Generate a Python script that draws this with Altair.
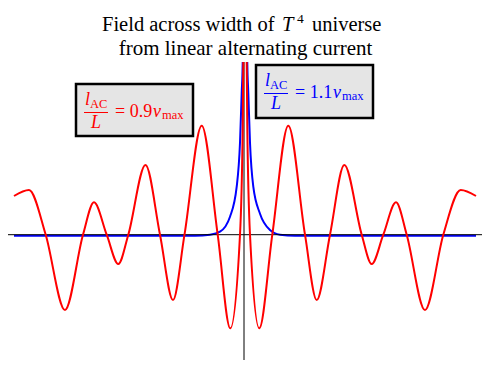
import altair as alt
import pandas as pd

# ---- data (x: offset across width, h: field value) ----
red_x_left = [-231, -216, -199.3, -180, -162, -151, -138.3, -126.7, -116.7, -99.5, -85, -72, -60.5,
              -43.3, -27.3, -14.7, -5, -2.3, -1.7, -0.8]
red_h_left = [38.7, 44.7, 0, -75.3, 0, 32.4, 0, -29.3, 0, 69.7, 0, -65.3, 0,
              109, 0, -93.6, 0, 108, 172, 320]
red_x_right = [0.8, 1.7, 2.3, 5, 14.3, 27.3, 43.3, 60, 71.7, 85, 99.3, 116.7, 126.7,
               138.3, 151, 161.7, 180, 198.3, 215.7, 231]
red_h_right = [320, 172, 108, 0, -93.6, 0, 109, 0, -65.3, 0, 69.7, 0, -29.3,
               0, 32.4, 0, -75.3, 0, 44.7, 38.7]

blue_x_left = [-231, -50, -35, -25, -15, -8.3, -5, -3.3, -2.3, -1.2]
blue_h_left = [-1, -1, 0, 3, 18, 48, 92, 142, 172, 300]
blue_x_right = [1.2, 2.3, 3.3, 5, 8.3, 15, 25, 35, 50, 231]
blue_h_right = [300, 172, 142, 92, 48, 21, 4.7, 0, -1, -1]

title_1 = ["Field across width of", "T", "4", "universe"]
title_2 = "from linear alternating current"
label_red = ("l", "AC", "L", "= 0.9", "\u03bd", "max")
label_blue = ("l", "AC", "L", "= 1.1", "\u03bd", "max")

SERIF = "Liberation Serif"


def seg_frame(xs, hs, name):
    return pd.DataFrame({"x": xs, "h": hs, "seg": name})


red_df = pd.concat([seg_frame(red_x_left, red_h_left, "L"), seg_frame(red_x_right, red_h_right, "R")])
blue_df = pd.concat([seg_frame(blue_x_left, blue_h_left, "L"), seg_frame(blue_x_right, blue_h_right, "R")])

xs = alt.Scale(domain=[-237, 237], nice=False, zero=False)
ys = alt.Scale(domain=[-127.3, 172.7], nice=False, zero=False)


def curve(df, color):
    return alt.Chart(df).mark_line(color=color, strokeWidth=2, clip=True, interpolate="monotone").encode(
        x=alt.X("x:Q", scale=xs, axis=None),
        y=alt.Y("h:Q", scale=ys, axis=None),
        detail="seg:N",
    )


axis_h = alt.Chart(pd.DataFrame({"x": [-237], "x2": [239], "y": [0]})).mark_rule(color="black", strokeWidth=1).encode(
    x=alt.X("x:Q", scale=xs, axis=None), x2="x2:Q", y=alt.Y("y:Q", scale=ys, axis=None))
axis_v = alt.Chart(pd.DataFrame({"x": [-1], "y": [-125.3], "y2": [172.7]})).mark_rule(color="black", strokeWidth=1).encode(
    x=alt.X("x:Q", scale=xs, axis=None), y=alt.Y("y:Q", scale=ys, axis=None), y2="y2:Q")

one = pd.DataFrame({"k": [0]})
OX, OY = 8, 62  # page position of plot origin


def txt(s, px, py, size, color="black", italic=False, align="left"):
    return alt.Chart(one).mark_text(
        text=s, font=SERIF, fontSize=size, fontStyle="italic" if italic else "normal",
        color=color, align=align, baseline="alphabetic",
    ).encode(x=alt.value(px - OX), y=alt.value(py - OY))


def label(bx, by, w, h, color, parts):
    l, ac, L, eq, nu, mx = parts
    box = alt.Chart(one).mark_rect(fill="#e5e5e5", stroke="black", strokeWidth=2.5).encode(
        x=alt.value(bx - OX), x2=alt.value(bx + w - OX), y=alt.value(by - OY), y2=alt.value(by + h - OY))
    bar = alt.Chart(one).mark_rule(color=color, strokeWidth=1).encode(
        x=alt.value(bx + 8 - OX), x2=alt.value(bx + 32 - OX), y=alt.value(by + 28.5 - OY))
    return [
        box, bar,
        txt(l, bx + 9, by + 21, 18, color, italic=True),
        txt(ac, bx + 14, by + 24, 12.5, color),
        txt(L, bx + 20, by + 44, 18, color, italic=True, align="center"),
        txt(eq, bx + 39, by + 33, 18, color),
        txt(nu, bx + 77, by + 33, 18, color, italic=True),
        txt(mx, bx + 86, by + 35, 12.5, color),
    ]


titles = [
    txt(title_1[0], 102, 31, 20.5),
    txt(title_1[1], 282, 31, 20.5, italic=True),
    txt(title_1[2], 297, 23, 13.5),
    txt(title_1[3], 312, 31, 20.5),
    txt(title_2, 245.5, 55, 21, align="center"),
]

layers = [curve(blue_df, "#0000ff"), axis_h, axis_v, curve(red_df, "#ff0000")]
layers += label(76, 84, 117, 52, "#ff0000", label_red)
layers += label(256, 65, 117, 53, "#0000ff", label_blue)
layers += titles

chart = alt.layer(*layers).properties(
    width=474, height=300,
    padding={"left": 0, "top": 54, "right": 0, "bottom": 0},
    autosize=alt.AutoSizeParams(type="none"),
).configure_view(stroke="transparent")

chart.save("out.html", embed_options={"renderer": "svg", "actions": False})
